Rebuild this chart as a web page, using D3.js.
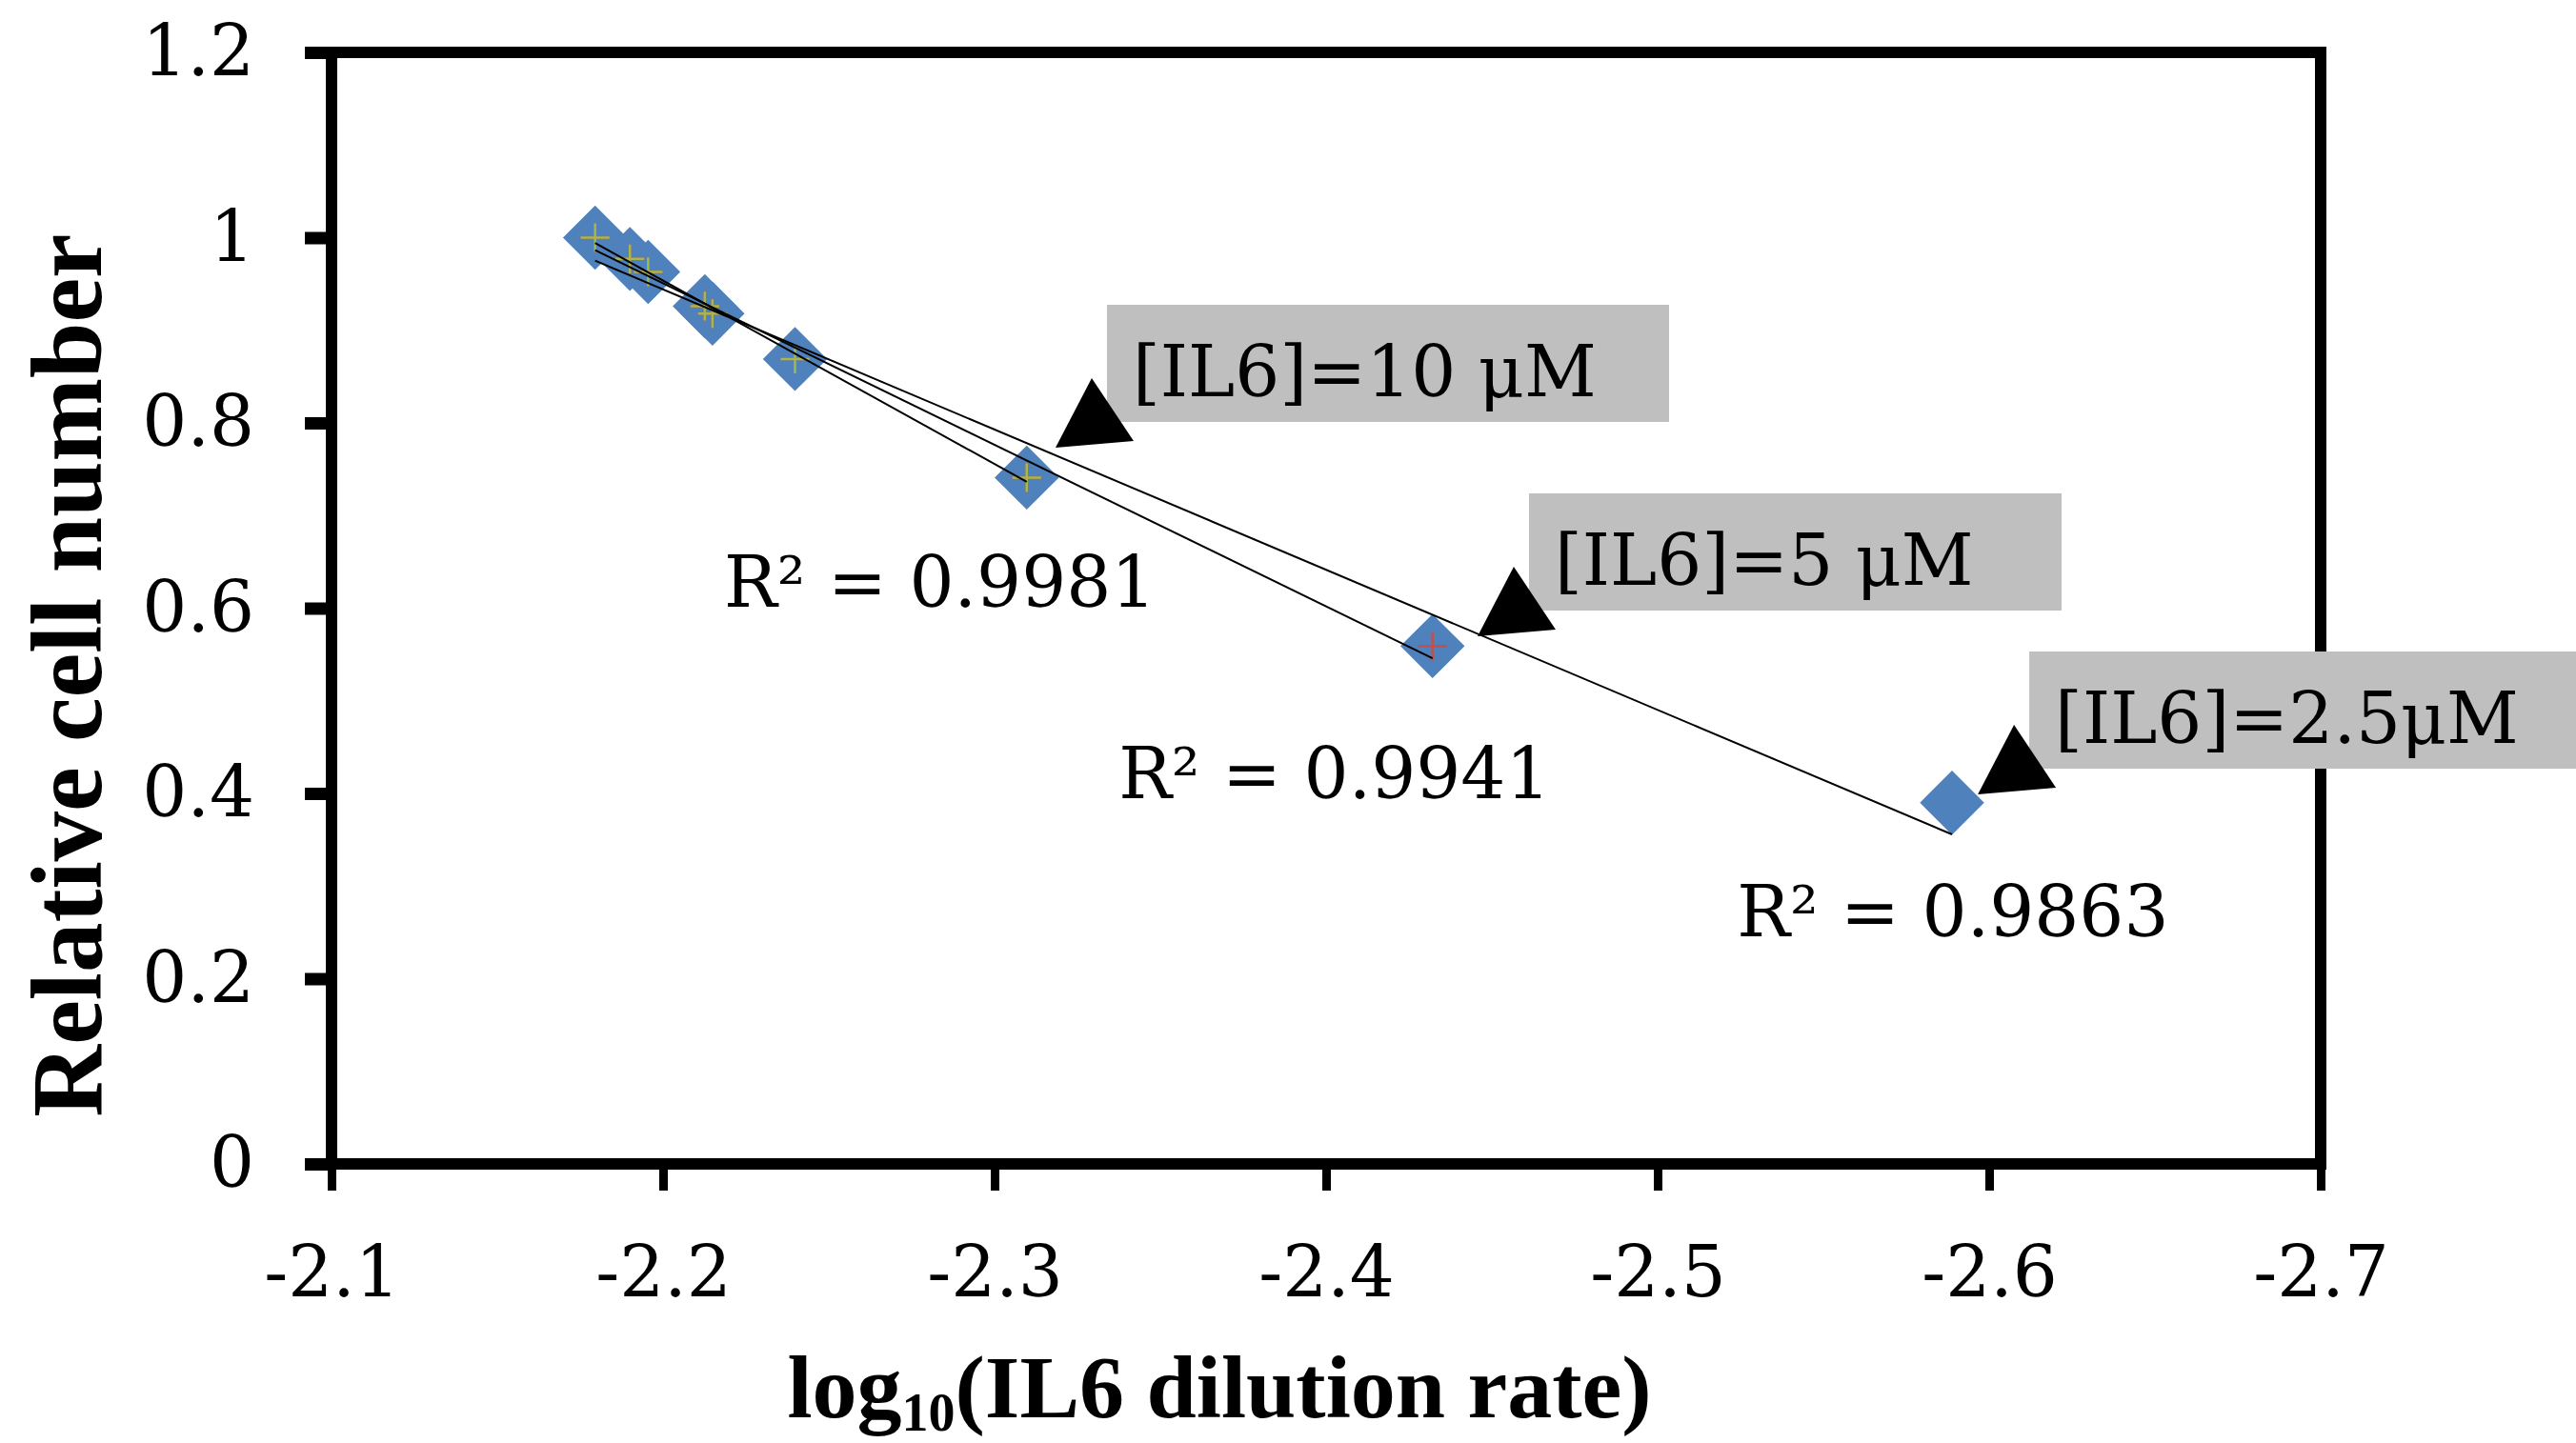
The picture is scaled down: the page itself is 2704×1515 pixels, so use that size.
<!DOCTYPE html>
<html>
<head>
<meta charset="utf-8">
<script src="https://cdn.jsdelivr.net/npm/d3@7"></script>
<style>
  body { margin: 0; background: #fff; }
  svg { display: block; }
</style>
</head>
<body>
<svg id="chart" width="2704" height="1515"></svg>
<script>
// tick values
const xTicks = [-2.1, -2.2, -2.3, -2.4, -2.5, -2.6, -2.7];
const yTicks = [0, 0.2, 0.4, 0.6, 0.8, 1, 1.2];

// log10(IL6 dilution rate) and relative cell number
const logDilution = [-2.1795, -2.190, -2.1955, -2.2126, -2.2149, -2.2398, -2.3097, -2.4321, -2.5888];
const cells25 = [1.0, 0.977, 0.963, 0.926, 0.918, 0.869, 0.741, 0.559, 0.390];
const cells5 = [1.0, 0.977, 0.963, 0.926, 0.918, 0.869, 0.741, 0.559];
const cells10 = [1.0, 0.977, 0.963, 0.926, 0.918, 0.869, 0.741];

const seriesNames = ['[IL6]=10 μM', '[IL6]=5 μM', '[IL6]=2.5μM'];
const r2Labels = ['R² = 0.9981', 'R² = 0.9941', 'R² = 0.9863'];

const svg = d3.select('#chart');

const x = d3.scaleLinear().domain([-2.1, -2.7]).range([348, 2436]);
const y = d3.scaleLinear().domain([0, 1.2]).range([1222, 55]);

const fmt = d => String(+d.toFixed(1));

// axes
const yAxis = svg.append('g')
    .attr('transform', `translate(${x(-2.1)},0)`)
    .call(d3.axisLeft(y).tickValues(yTicks).tickFormat(fmt).tickSize(28).tickSizeOuter(0).tickPadding(53));
yAxis.select('.domain').remove();
yAxis.selectAll('.tick line').attr('stroke', '#000').attr('stroke-width', 13);
yAxis.selectAll('text')
    .attr('font-family', 'DejaVu Serif')
    .attr('font-size', 74)
    .attr('fill', '#000');

const xAxis = svg.append('g')
    .attr('transform', `translate(0,${y(0)})`)
    .call(d3.axisBottom(x).tickValues(xTicks).tickFormat(fmt).tickSize(28).tickSizeOuter(0).tickPadding(58));
xAxis.select('.domain').remove();
xAxis.selectAll('.tick line').attr('stroke', '#000').attr('stroke-width', 9);
xAxis.selectAll('text')
    .attr('font-family', 'DejaVu Serif')
    .attr('font-size', 74)
    .attr('fill', '#000');

// plot frame
svg.append('rect')
    .attr('x', x(-2.1))
    .attr('y', y(1.2))
    .attr('width', x(-2.7) - x(-2.1))
    .attr('height', y(0) - y(1.2))
    .attr('fill', 'none')
    .attr('stroke', '#000')
    .attr('stroke-width', 12);

// axis titles
svg.append('text')
    .attr('transform', 'translate(106,709) rotate(-90)')
    .attr('text-anchor', 'middle')
    .attr('font-family', 'Liberation Serif')
    .attr('font-weight', 'bold')
    .attr('font-size', 105)
    .text('Relative cell number');

const xt = svg.append('text')
    .attr('x', 1280)
    .attr('y', 1488)
    .attr('text-anchor', 'middle')
    .attr('font-family', 'Liberation Serif')
    .attr('font-weight', 'bold')
    .attr('font-size', 94);
xt.append('tspan').text('log');
xt.append('tspan').attr('font-size', 56).attr('dy', 14).text('10');
xt.append('tspan').attr('dy', -14).text('(IL6 dilution rate)');

// points
const pts = (ys) => ys.map((v, i) => [logDilution[i], v]);
const s25 = pts(cells25), s5 = pts(cells5), s10 = pts(cells10);

const diamond = d3.symbol().type(d3.symbolDiamond2).size(2900);
svg.append('g').selectAll('path')
    .data(s25)
    .join('path')
    .attr('transform', d => `translate(${x(d[0])},${y(d[1])})`)
    .attr('d', diamond)
    .attr('fill', '#4f81bd');

const plus = d3.symbol().type(d3.symbolPlus).size(300);
[[s5, '#c0504d'], [s10, '#a4b84e']].forEach(([s, c]) => {
  svg.append('g').selectAll('path')
      .data(s)
      .join('path')
      .attr('transform', d => `translate(${x(d[0])},${y(d[1])})`)
      .attr('d', plus)
      .attr('fill', 'none')
      .attr('stroke', c)
      .attr('stroke-width', 2.5);
});

// linear trendlines (least squares), drawn over the first..last point
function fit(s) {
  const mx = d3.mean(s, d => d[0]), my = d3.mean(s, d => d[1]);
  const b = d3.sum(s, d => (d[0] - mx) * (d[1] - my)) / d3.sum(s, d => (d[0] - mx) ** 2);
  const ext = d3.extent(s, d => d[0]);
  return ext.map(v => [v, my + b * (v - mx)]);
}
const line = d3.line().x(d => x(d[0])).y(d => y(d[1]));
[s10, s5, s25].forEach(s => {
  svg.append('path')
      .attr('d', line(fit(s)))
      .attr('fill', 'none')
      .attr('stroke', '#000')
      .attr('stroke-width', 2);
});

// R² labels
const r2Pos = [[-2.2184, 0.6015], [-2.3374, 0.3949], [-2.5239, 0.2458]];
svg.append('g').selectAll('text')
    .data(r2Labels)
    .join('text')
    .attr('x', (d, i) => x(r2Pos[i][0]))
    .attr('y', (d, i) => y(r2Pos[i][1]))
    .attr('font-family', 'DejaVu Serif')
    .attr('font-size', 74)
    .text(d => d);

// callout boxes with arrow heads
const boxPos = [[-2.3339, 0.9275, 590], [-2.4612, 0.7239, 559], [-2.6121, 0.5532, 600]];
const boxH = 123;
const notes = svg.append('g').selectAll('g')
    .data(seriesNames)
    .join('g')
    .attr('transform', (d, i) => `translate(${x(boxPos[i][0])},${y(boxPos[i][1])})`);
notes.append('rect')
    .attr('width', (d, i) => boxPos[i][2])
    .attr('height', boxH)
    .attr('fill', '#bfbfbf');
notes.append('text')
    .attr('x', 27)
    .attr('y', 96)
    .attr('font-family', 'DejaVu Serif')
    .attr('font-size', 74)
    .text(d => d);
notes.append('path')
    .attr('d', `M${-16},${boxH - 46} L${-54},${boxH + 27} L${28},${boxH + 20} Z`)
    .attr('fill', '#000');
</script>
</body>
</html>
